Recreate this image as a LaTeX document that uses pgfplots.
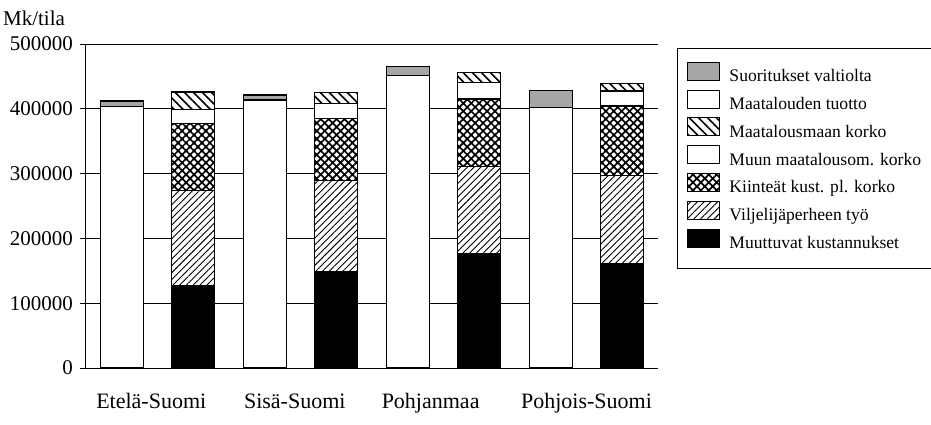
\documentclass[border=0pt]{standalone}
\usepackage{pgfplots}
\pgfplotsset{compat=1.18}
\usepackage{pgfplotstable}
\usetikzlibrary{patterns,patterns.meta}
\usepackage{fontspec}
\setmainfont{Liberation Serif}

\pgfplotstableread{
x tuotto suor muut vilj kiint muun maam
1 404000 8000 0 0 0 0 0
2 0 0 127000 146600 103400 22200 26800
3 413600 7700 0 0 0 0 0
4 0 0 148000 141000 96300 23200 17000
5 451000 14000 0 0 0 0 0
6 0 0 177000 133700 104400 25800 15400
7 402000 26000 0 0 0 0 0
8 0 0 160500 136300 107500 23200 11900
}\datatable

\tikzset{
  sTuotto/.style={fill=white,draw=black},
  sSuor/.style={fill=black!35,draw=black},
  sMuut/.style={fill=black,draw=black},
  sVilj/.style={fill=white,draw=black,postaction={pattern={Lines[angle=45,distance=2.4pt,line width=0.45pt]}}},
  sKiint/.style={fill=white,draw=black,postaction={pattern={Hatch[angle=45,distance=2.8pt,line width=0.85pt]}}},
  sMuun/.style={fill=white,draw=black},
  sMaam/.style={fill=white,draw=black,postaction={pattern={Lines[angle=-45,distance=3.2pt,line width=0.8pt]}}},
}

\begin{document}
\begin{tikzpicture}
\path[use as bounding box] (-43pt,-28pt) rectangle (422.5pt,184pt);
\begin{axis}[
  scale only axis,
  width=286pt, height=162pt,
  xmin=0.5, xmax=8.5,
  ymin=0, ymax=500000,
  ybar stacked,
  bar width=21.5pt,
  every axis plot/.append style={line width=0.7pt},
  axis x line*=bottom,
  axis y line*=left,
  axis line style={black, line width=0.5pt},
  ytick={0,100000,200000,300000,400000,500000},
  scaled y ticks=false,
  yticklabel style={/pgf/number format/fixed,/pgf/number format/1000 sep={},font=\fontsize{10.5}{12}\selectfont},
  /pgf/number format/assume math mode=true,
  ymajorgrids,
  grid style={black, line width=0.5pt},
  tick align=outside,
  major tick length=3pt,
  ytick style={black, line width=0.5pt},
  xtick={1.413,3.42,5.32,7.50},
  xticklabels={Etelä-Suomi,Sisä-Suomi,Pohjanmaa,Pohjois-Suomi},
  xtick style={draw=none},
  xticklabel style={anchor=base, yshift=-17pt, font=\fontsize{11}{13}\selectfont},
  clip=false,
  legend cell align=left,
  legend image code/.code={\draw[#1, line width=0.5pt] (0pt,-0.7pt) rectangle (16pt,8.3pt);},
  legend style={at={(1.0332,0.9877)}, anchor=north west, draw=black, line width=0.5pt,
    font=\fontsize{8.8}{10}\selectfont, inner xsep=5pt, inner ysep=6.7pt,
    row sep=0.45pt, column sep=4.5pt,
    nodes={inner sep=0pt, text height=6.3pt, text depth=3.5pt}},
]
\addlegendimage{sSuor}\addlegendentry{\makebox[110pt][l]{Suoritukset valtiolta}}
\addlegendimage{sTuotto}\addlegendentry{\makebox[110pt][l]{Maatalouden tuotto}}
\addlegendimage{sMaam}\addlegendentry{\makebox[110pt][l]{Maatalousmaan korko}}
\addlegendimage{sMuun}\addlegendentry{\makebox[110pt][l]{Muun maatalousom. korko}}
\addlegendimage{sKiint}\addlegendentry{\makebox[110pt][l]{Kiinteät kust. pl. korko}}
\addlegendimage{sVilj}\addlegendentry{\makebox[110pt][l]{Viljelijäperheen työ}}
\addlegendimage{sMuut}\addlegendentry{\makebox[110pt][l]{Muuttuvat kustannukset}}

\addplot[sTuotto, forget plot] table[x=x,y=tuotto] {\datatable};
\addplot[sSuor, forget plot] table[x=x,y=suor] {\datatable};
\addplot[sMuut, forget plot] table[x=x,y=muut] {\datatable};
\addplot[sVilj, forget plot] table[x=x,y=vilj] {\datatable};
\addplot[sKiint, forget plot] table[x=x,y=kiint] {\datatable};
\addplot[sMuun, forget plot] table[x=x,y=muun] {\datatable};
\addplot[sMaam, forget plot] table[x=x,y=maam] {\datatable};

\draw[black, line width=0.5pt] (axis description cs:1.0332,0.7685) -- (axis description cs:1.7,0.7685);
\node[anchor=base east, font=\fontsize{10.5}{12}\selectfont] at (axis description cs:-0.0245,1.0586) {Mk/tila};
\end{axis}
\end{tikzpicture}
\end{document}
